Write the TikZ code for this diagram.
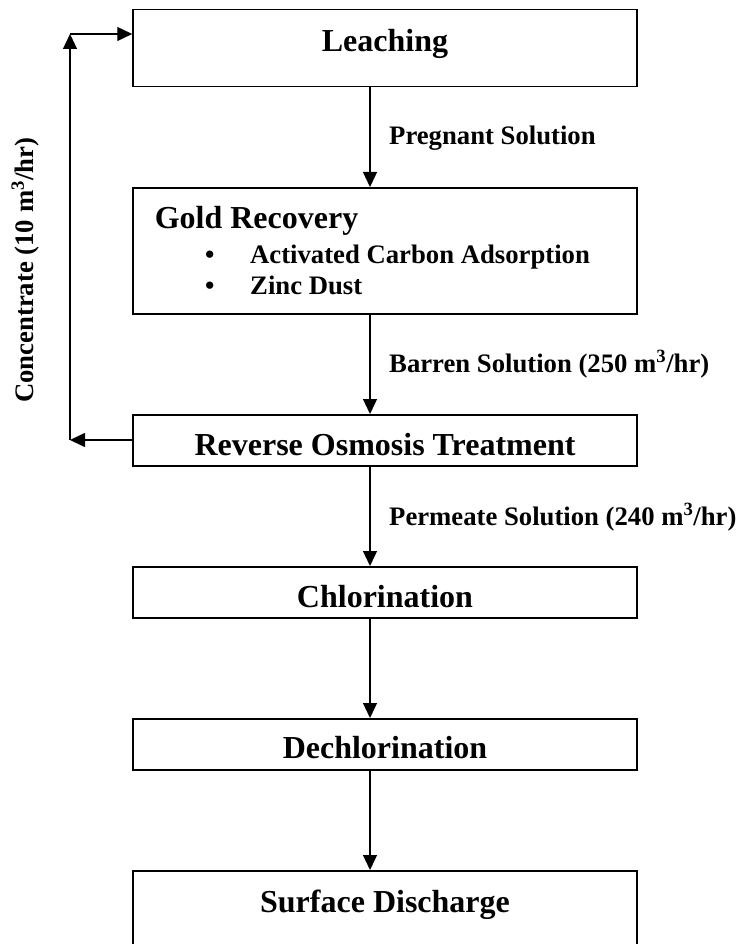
\documentclass[tikz,border=0pt]{standalone}
\usepackage{fontspec}
\setmainfont{Liberation Serif}
\usepackage{tikz}
\usetikzlibrary{positioning, calc, arrows.meta}

\begin{document}
\begin{tikzpicture}[
    x=1pt, y=-1pt,
    stage/.style={rectangle, draw, line width=1.5pt, minimum width=504pt, inner sep=0pt, font=\fontsize{32}{36}\selectfont\bfseries},
    note/.style={inner sep=0pt, font=\fontsize{26.7}{30}\selectfont\bfseries},
    arrow/.style={-{Triangle[length=15pt, width=14pt]}, line width=1.3pt}
]
    \clip (0,0) rectangle (740,944);

    \node[stage, anchor=north, text height=42pt, text depth=35pt] (leach) at (385,9) {Leaching};
    \node[stage, anchor=north, minimum height=126pt] (gold) at (385,187) {};
    \node[stage, anchor=base west, inner sep=0pt, draw=none, minimum width=0pt] (goldtitle) at (154,228) {Gold Recovery};
    \node[note, anchor=base west] (carbon) at (205,263) {\makebox[45pt][l]{\textbullet}Activated Carbon Adsorption};
    \node[note, anchor=base west] (zinc) at (205,294) {\makebox[45pt][l]{\textbullet}Zinc Dust};
    \node[stage, anchor=north, text height=41pt, text depth=10pt] (ro) at (385,414) {Reverse Osmosis Treatment};
    \node[stage, anchor=north, text height=41pt, text depth=10pt] (chlor) at (385,566) {Chlorination};
    \node[stage, anchor=north, text height=40pt, text depth=11pt] (dechlor) at (385,718) {Dechlorination};
    \node[stage, anchor=north, text height=42pt, text depth=40pt] (discharge) at (385,870) {Surface Discharge};

    \coordinate (axis) at (370,0);
    \coordinate (loopbot) at (70,440);
    \coordinate (looptop) at (70,34);

    \draw[arrow] (leach.south -| axis) -- (gold.north -| axis);
    \draw[arrow] (gold.south -| axis) -- (ro.north -| axis);
    \draw[arrow] (ro.south -| axis) -- (chlor.north -| axis);
    \draw[arrow] (chlor.south -| axis) -- (dechlor.north -| axis);
    \draw[arrow] (dechlor.south -| axis) -- (discharge.north -| axis);

    \draw[arrow] (ro.west |- loopbot) -- (loopbot);
    \draw[arrow] (loopbot) -- (looptop);
    \draw[arrow] (looptop) -- (leach.west |- looptop);

    \node[note, anchor=base west] (pregnant) at (389,145) {Pregnant Solution};
    \node[note, anchor=base west] (barren) at (389,372) {Barren Solution (250 m\textsuperscript{3}/hr)};
    \node[note, anchor=base west] (permeate) at (389,525) {Permeate Solution (240 m\textsuperscript{3}/hr)};
    \node[note, anchor=base west, rotate=90] (concentrate) at (33,403) {Concentrate (10 m\textsuperscript{3}/hr)};
\end{tikzpicture}
\end{document}
